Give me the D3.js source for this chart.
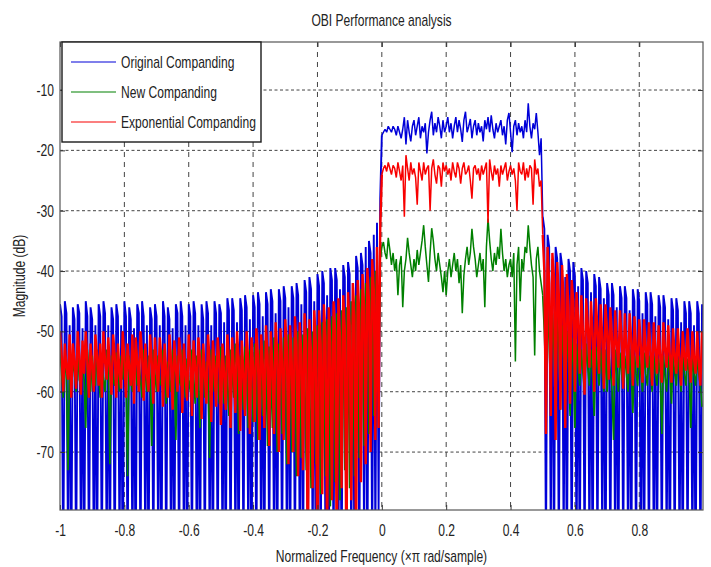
<!DOCTYPE html>
<html>
<head>
<meta charset="utf-8">
<script src="https://cdn.jsdelivr.net/npm/d3@7"></script>
<style>
  body { margin: 0; background: #fff; }
  text { font-family: "Liberation Sans", Arial, sans-serif; font-size: 17px; fill: #222; }
</style>
</head>
<body>
<svg id="chart" width="711" height="567"></svg>
<script>
// frequency grid: -1 .. 0.995 (x pi rad/sample), one value every 0.005
const freqStart = -1, freqStep = 0.005;

const seriesNames = ["Original Companding", "New Companding", "Exponential Companding"];
const seriesColors = ["#0000d8", "#008000", "#f80000"];
const xTicks = [-1, -0.8, -0.6, -0.4, -0.2, 0, 0.2, 0.4, 0.6, 0.8];
const yTicks = [-70, -60, -50, -40, -30, -20, -10];

// Original companding (blue), dB
const blueLeft = [
  -45.5,-47.5,-90,-45,-47,-88,-49,-92,-46,-48,-90,-45.5,-47,-86,-49.5,-94,-45,-47.5,-90,-46,
  -48,-88,-49,-93,-45.5,-47.5,-90,-45,-47,-87,-49,-92,-46,-48,-91,-45.5,-47.5,-86,-49,-95,
  -45,-47.5,-90,-46,-48,-88,-49.5,-93,-45.5,-47,-90,-45,-47.5,-87,-49,-92,-46,-48,-90,-45.5,
  -47.5,-86,-49,-94,-45,-47.5,-90,-46,-48,-88,-49.5,-93,-45.5,-47,-90,-45,-47.5,-87,-49,-92,
  -45.5,-47.5,-89,-45,-47,-88,-49,-93,-45.5,-48,-90,-45,-47,-86,-49,-94,-45,-47,-90,-45.5,
  -47,-88,-48.5,-92,-44.5,-46.5,-90,-44.5,-46.5,-87,-48.5,-93,-44.5,-46.5,-89,-44,-46,-86,-48,-94,
  -44,-46,-90,-43.5,-45.5,-88,-47.5,-92,-43.5,-45.5,-89,-43,-45,-87,-47,-93,-43,-45,-90,-42.5,
  -44.5,-88,-46,-92,-42.5,-44.5,-90,-42,-44,-87,-45.5,-93,-41.5,-43.5,-89,-41,-43,-86,-45,-94,
  -40.5,-42.5,-90,-40,-42,-88,-44,-92,-39.5,-41.5,-89,-39.5,-41.5,-87,-43,-93,-39,-41,-90,-38.5,
  -40.5,-88,-42,-92,-37.5,-39.5,-90,-37,-39,-86,-36,-92,-35,-37,-88,-34,-85,-32,-80,-28
];
const blueBand = [
  -17.5,-17,-16.5,-17,-16,-16.5,-17,-16,-16.5,-17.5,-16,-17,-18,-16.5,-14.5,-19,-15,-17,-18.5,-16,
  -15,-17.5,-16,-14.5,-18,-16,-17,-15.5,-20.5,-17,-15,-13.6,-17.5,-15.5,-17,-14.5,-16,-18,-15,-17,
  -16,-14.5,-17,-15.5,-18,-16,-14.5,-17,-15,-16.5,-18.6,-15,-13.6,-17,-16,-14.8,-18,-16,-15,-17.5,
  -15.5,-17,-16,-18.5,-15,-16.5,-14.5,-17,-14.2,-16.5,-18,-15.5,-17,-16,-15,-17.5,-16,-19,-15,-13.8,
  -17,-20.3,-16,-15,-17.5,-15.5,-17,-16,-18,-15,-17,-12.2,-16,-18,-15.5,-16.5,-13.8,-17,-20.8,-18
];
const blueRight = [
  -31,-33,-88,-34,-36,-85,-38,-92,-36,-38,-89,-37,-39,-86,-41,-93,-38,-40,-90,-38.5,
  -41,-88,-42.5,-92,-39.5,-41.5,-90,-40,-42,-87,-43.5,-93,-40.5,-42.5,-89,-41,-43,-86,-44.5,-94,
  -42,-44,-90,-42,-44,-88,-46,-92,-42.5,-44.5,-89,-42.5,-44.5,-87,-46.5,-93,-43,-45,-90,-43,
  -45,-88,-47,-92,-43.5,-45.5,-90,-43.5,-45.5,-87,-47.5,-93,-44,-46,-89,-44,-46,-86,-48,-94,
  -44.5,-46.5,-90,-44.5,-46.5,-88,-48.5,-92,-45,-47,-89,-45,-47,-87,-49,-93,-45,-47,-90,-45.5
];

// New companding (green), dB
const greenLeft = [
  -53,-57,-61,-54,-58,-73,-53.5,-59,-55,-57,-60,-53,-58,-59,-54,-58,-66,-53,-57,-60,
  -54,-58,-59,-53,-57,-61,-55,-58,-60,-53,-56,-72,-54,-58,-59,-53.5,-57,-60,-54,-58,
  -53,-57,-74,-54,-58,-60,-53,-56,-59,-55,-58,-61,-53,-57,-60,-54,-58,-69,-53,-57,
  -60,-54,-58,-59,-53,-56.5,-62,-55,-58,-60,-53,-57,-68,-54,-58,-59,-53,-56,-61,-54.5,
  -58,-60,-53,-57,-62,-54,-58,-66,-53,-56,-61,-55,-58,-71,-53,-57,-60,-54,-58,-62,
  -52.5,-56,-62,-54,-58,-64,-53,-57,-61,-52,-56,-67,-54,-58,-63,-52.5,-56,-66,-53,-57,
  -65,-52,-56,-68,-53,-57,-64,-51.5,-55,-69,-52.5,-56,-66,-51,-55,-70,-52,-56,-67,-51,
  -55,-72,-50.5,-54.5,-70,-51,-55,-74,-50,-54,-71,-50.5,-55,-73,-49.5,-53.5,-76,-50,-54,-72,
  -49,-53,-77,-48.5,-52,-74,-48,-52.5,-79,-47.5,-51.5,-75,-47,-51,-78,-46.5,-50.5,-73,-46,-50,
  -76,-45,-49,-74,-44,-48,-71,-43,-47,-69,-42,-46,-67,-41,-45,-64,-40,-43,-60,-38
];
const greenBand = [
  -36,-35.2,-37,-38,-34.5,-36.5,-39,-37,-40,-38,-44,-39,-37.5,-46,-40,-38,-34.5,-37,-39,-41,
  -38,-40,-36.5,-39,-37,-35,-32.4,-36,-39,-41.8,-37,-32.9,-35,-38,-40,-37,-39,-41,-43.5,-40,
  -44,-40,-38,-41,-39,-37,-40,-38,-42,-39,-47,-40.7,-38,-36,-39,-37,-33,-36,-38,-41,
  -39,-37,-40,-38,-46,-36,-31.3,-35,-38,-40,-37,-39,-36,-38,-33,-37,-40,-38,-41,-39,
  -38,-41,-37,-55,-39,-36,-45,-38,-40,-36,-37,-32.4,-36,-39,-41,-54,-38,-36,-40,-42
];
const greenRight = [
  -44,-50,-58,-46,-52,-60,-47,-53,-62,-48,-52,-63,-49,-54,-61,-50,-55,-64,-51,-56,
  -66,-52,-56,-59,-53,-57,-60,-52,-56,-59,-53,-57,-64,-52.5,-56,-59,-53,-57,-60,-53,
  -60,-53,-57,-59,-68,-53,-57,-60,-53.5,-57,-59,-54,-57,-60,-53,-57,-63.5,-54,-57,-59,
  -54,-57,-60,-53.5,-57,-59,-54,-57,-60,-54,-57,-59,-54.5,-57,-67,-54,-57.5,-60,-54,-57,
  -62,-54,-57,-59,-54.5,-57,-60,-54,-57,-59,-54.5,-57,-66,-54,-57,-59,-54.5,-57,-59,-62.5
];

// Exponential companding (red), dB
const redLeft = [
  -50,-54,-60,-52,-56,-58,-50.5,-61,-52,-55,-59.5,-50,-54,-60.5,-51.5,-57,-50,-55,-61,-52,
  -56,-60,-50.5,-54,-59,-52,-61,-50,-55,-58,-51,-56,-60.5,-50.5,-54,-61,-52,-57,-59.5,-50,
  -54.5,-61,-52,-56,-59,-50.5,-62,-51,-55,-60,-50,-54,-61.5,-52,-57,-60,-50.5,-55,-62,-51,
  -56,-60,-51,-54.5,-62.5,-52,-57,-61,-50.5,-55,-63,-51.5,-56,-60,-51,-54,-63.5,-52,-57,-61.5,
  -50.5,-55,-64,-51.5,-56,-61,-51,-54.5,-64.5,-52,-57,-62,-50.5,-55,-65,-51.5,-56,-62.5,-51,-55,
  -65.5,-52,-57,-63,-50.5,-55,-66,-51,-56,-63.5,-50,-54.5,-66.5,-51.5,-57,-64,-50,-55,-67,-51,
  -56,-65,-49.5,-54,-68,-50.5,-55.5,-66,-49,-54,-69,-50,-56,-67,-48.5,-53.5,-70,-49.5,-55,-68,
  -48,-53,-72,-49,-55,-70,-47.5,-52.5,-74,-48.5,-54,-73,-47,-52,-90,-48,-53.5,-76,-46.5,-52,
  -92,-46.5,-52,-77,-45.5,-51,-86,-46,-52,-78,-45,-50,-88,-44.5,-51,-76,-44,-49.5,-90,-43.5,
  -49,-78,-42,-47.5,-87,-41.5,-47,-75,-40.5,-46,-72,-39.5,-45,-70,-38,-43,-68,-36,-66,-33
];
const redBand = [
  -24,-23,-22.5,-23.5,-22,-23,-24,-22.5,-23,-24.5,-22,-23.5,-25,-22.5,-31,-20.8,-23,-25,-22,-24,
  -23,-24.5,-29,-22,-23.5,-25,-22,-24,-23,-22.5,-30,-23,-21.5,-24,-25.5,-22.5,-23,-26,-22,-23.5,
  -22.5,-24,-23,-25,-22,-23.5,-24.5,-22,-23,-25.5,-23,-22,-24,-23.5,-22.5,-25,-28,-23,-22.5,-24,
  -23,-25,-22.5,-24,-23,-22,-32,-21.5,-23.5,-25,-22.5,-24,-23,-26,-22.5,-24,-23,-22,-25,-23.5,
  -22.5,-24,-23,-25,-30,-22,-23.5,-24,-22,-25,-23,-24.5,-22.5,-23,-29,-21.5,-24,-23,-26,-25
];
const redRight = [
  -34,-40,-67,-36,-42,-64,-37,-41,-68,-38.5,-44,-63,-39,-45,-66,-40.5,-46,-62,-41.5,-45,
  -60,-43.5,-48,-57,-44,-50,-60.5,-44.5,-49,-56,-45,-50.5,-60,-44.5,-49.5,-57,-45.5,-51,-59.5,-45.5,
  -50,-58,-46,-51,-59,-46.5,-52,-56,-46.5,-51,-59.5,-47,-52.5,-57,-47,-51.5,-59,-47.5,-53,-56,
  -48,-52.5,-58.5,-48,-53,-56,-48.5,-53.5,-59,-48.5,-53,-57,-49,-54,-58.5,-48.5,-53,-56,-49,-54,
  -58.5,-49.5,-54,-57,-49.5,-54.5,-59,-50,-54,-56.5,-49.5,-55,-58.5,-50,-54.5,-57,-50,-55,-59,-50
];

// SETUP
const margin = { top: 42, right: 8, bottom: 57, left: 60 },
    width = 711 - margin.left - margin.right,
    height = 567 - margin.top - margin.bottom;

const svg = d3.select("#chart");
const g = svg.append("g")
    .attr("transform", `translate(${margin.left},${margin.top})`);

// join the three pieces of each curve and attach frequencies
const toPoints = arr => arr.map((v, i) => ({ f: freqStart + i * freqStep, v }));
const series = [
    toPoints([...blueLeft, ...blueBand, ...blueRight]),
    toPoints([...greenLeft, ...greenBand, ...greenRight]),
    toPoints([...redLeft, ...redBand, ...redRight])
];
// stopband lines look heavier in the reference than the passband ones
const stopWidth = [1.9, 1.7, 2.4];
const bandWidth = 1.5;
// stopband / passband / stopband index ranges (overlap by one point so the curve stays joined)
const nLeft = blueLeft.length, nBand = blueBand.length;
const pieces = [
    { from: 0, to: nLeft + 1, stop: true },
    { from: nLeft, to: nLeft + nBand + 1, stop: false },
    { from: nLeft + nBand, to: series[0].length, stop: true }
];

// SCALES
const x = d3.scaleLinear().domain([-1, 0.998]).range([0, width]);
const y = d3.scaleLinear().domain([-79.6, -2.04]).range([height, 0]);

// GRID (dotted, under the data)
g.append("g").selectAll("line")
    .data(yTicks).enter().append("line")
    .attr("x1", 0).attr("x2", width)
    .attr("y1", d => y(d)).attr("y2", d => y(d))
    .attr("stroke", "#444").attr("stroke-width", 1)
    .attr("stroke-dasharray", "3,2.5");

g.append("g").selectAll("line")
    .data(xTicks.filter(d => d > -1)).enter().append("line")
    .attr("x1", d => x(d)).attr("x2", d => x(d))
    .attr("y1", 0).attr("y2", height)
    .attr("stroke", "#444").attr("stroke-width", 1)
    .attr("stroke-dasharray", "5,5");

// CURVES
g.append("clipPath").attr("id", "plotClip")
    .append("rect").attr("width", width).attr("height", height);

const line = d3.line()
    .x(d => x(d.f))
    .y(d => y(d.v));

const curves = g.append("g").attr("clip-path", "url(#plotClip)");
series.forEach((s, i) => {
    pieces.forEach(p => {
        curves.append("path")
            .datum(s.slice(p.from, p.to))
            .attr("d", line)
            .attr("fill", "none")
            .attr("stroke", seriesColors[i])
            .attr("stroke-width", p.stop ? stopWidth[i] : bandWidth)
            .attr("stroke-linejoin", "bevel");
    });
});

// AXES (ticks point inward, box on)
const tickFmt = d => String(d);
g.append("g").attr("class", "axis")
    .attr("transform", `translate(0,${height})`)
    .call(d3.axisBottom(x).tickValues(xTicks).tickFormat(tickFmt)
        .tickSizeInner(-5).tickSizeOuter(0).tickPadding(14));
g.append("g").attr("class", "axis")
    .call(d3.axisTop(x).tickValues(xTicks).tickFormat("")
        .tickSizeInner(-5).tickSizeOuter(0));
g.append("g").attr("class", "axis")
    .call(d3.axisLeft(y).tickValues(yTicks).tickFormat(tickFmt)
        .tickSizeInner(-5).tickSizeOuter(0).tickPadding(6));
g.append("g").attr("class", "axis")
    .attr("transform", `translate(${width},0)`)
    .call(d3.axisRight(y).tickValues(yTicks).tickFormat("")
        .tickSizeInner(-5).tickSizeOuter(0));

g.selectAll(".axis .domain").remove();
g.selectAll(".axis line").attr("stroke", "#333");
g.selectAll(".axis text")
    .attr("font-size", null).attr("font-family", null)
    .attr("fill", "#333");

g.append("rect")
    .attr("width", width).attr("height", height)
    .attr("fill", "none").attr("stroke", "#555").attr("stroke-width", 1.2);

// LEGEND
const legend = g.append("g").attr("transform", "translate(2,0)");
legend.append("rect")
    .attr("width", 199).attr("height", 100)
    .attr("fill", "#fff").attr("stroke", "#1a1a1a").attr("stroke-width", 1.4);
seriesNames.forEach((name, i) => {
    const ly = 20 + i * 30;
    legend.append("line")
        .attr("x1", 9).attr("x2", 54).attr("y1", ly).attr("y2", ly)
        .attr("stroke", seriesColors[i]).attr("stroke-width", 1.2);
    legend.append("text")
        .attr("x", 59).attr("y", ly + 6)
        .text(name);
});

// LABELS
svg.append("text")
    .attr("text-anchor", "middle")
    .attr("x", margin.left + width / 2).attr("y", 26)
    .text("OBI Performance analysis");

svg.append("text")
    .attr("text-anchor", "middle")
    .attr("x", margin.left + width / 2).attr("y", 562)
    .text("Normalized Frequency (\u00d7\u03c0 rad/sample)");

svg.append("text")
    .attr("text-anchor", "middle")
    .attr("transform", `translate(25,${margin.top + height / 2}) rotate(-90)`)
    .text("Magnitude (dB)");

// the reference lettering is horizontally narrow
svg.selectAll("text").each(function () {
    const len = this.getComputedTextLength();
    if (len > 0) {
        d3.select(this)
            .attr("textLength", len * 0.71)
            .attr("lengthAdjust", "spacingAndGlyphs");
    }
});
</script>
</body>
</html>
